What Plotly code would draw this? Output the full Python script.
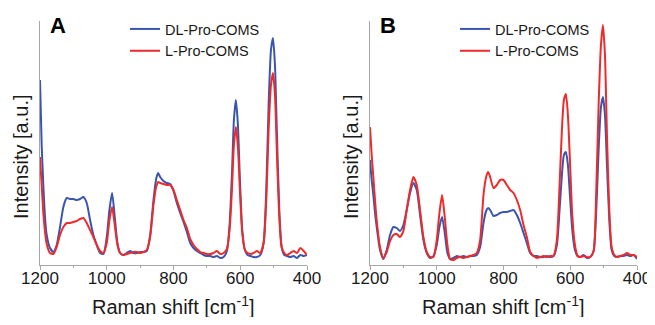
import plotly.graph_objects as go

# Raman shift positions (cm^-1)
wavenumber = [1200, 1195, 1190, 1185, 1180, 1170, 1160, 1150, 1140, 1130, 1120, 1110, 1100, 1090,
              1080, 1070, 1060, 1050, 1040, 1030, 1020, 1010, 1000, 992, 984, 976, 968, 960, 950,
              940, 930, 920, 910, 900, 890, 880, 870, 860, 852, 846, 840, 830, 820, 810, 800, 790,
              780, 770, 760, 750, 740, 730, 720, 710, 700, 690, 680, 670, 660, 650, 640, 632, 625,
              619, 613, 607, 601, 594, 586, 578, 570, 560, 550, 540, 530, 522, 515, 508, 502, 496,
              490, 483, 476, 468, 460, 450, 440, 430, 420, 410, 400]

# Panel A intensities (a.u.)
a_dl = [185, 120, 80, 48, 30, 17, 13, 20, 38, 58, 67, 66, 66, 65,
        66, 68, 62, 45, 30, 20, 12, 11, 28, 55, 72, 48, 22, 12, 10,
        12, 14, 12, 12, 13, 13, 14, 30, 65, 86, 92, 88, 84, 82, 81, 74, 62,
        52, 43, 33, 22, 17, 14, 12, 10, 9, 9, 8, 9, 7, 8, 14, 40, 90,
        145, 165, 140, 85, 35, 15, 10, 9, 8, 8, 10, 22, 75, 160, 215, 227, 200,
        130, 55, 18, 10, 9, 8, 9, 7, 10, 9, 10]
a_l = [108, 80, 52, 33, 21, 12, 11, 18, 30, 38, 42, 42, 43, 44,
       46, 47, 42, 35, 28, 20, 14, 12, 22, 45, 58, 40, 20, 12, 10,
       11, 12, 13, 13, 12, 13, 15, 28, 60, 78, 83, 82, 81, 80, 80, 75, 65,
       55, 45, 37, 26, 20, 16, 13, 12, 11, 11, 12, 14, 11, 12, 16, 35, 75,
       120, 138, 118, 75, 32, 15, 12, 11, 12, 14, 12, 22, 65, 135, 180, 192, 170,
       110, 48, 18, 12, 10, 12, 14, 12, 17, 14, 10]

# Panel B intensities (a.u.)
b_dl = [105, 85, 70, 52, 38, 15, 6, 15, 30, 38, 37, 34, 40, 55,
        72, 82, 75, 50, 25, 12, 7, 9, 20, 38, 48, 32, 12, 6, 7,
        9, 8, 9, 8, 9, 9, 10, 18, 42, 54, 57, 55, 49, 50, 52, 53, 53,
        54, 55, 50, 42, 32, 22, 12, 9, 9, 8, 8, 9, 8, 9, 20, 55, 90,
        110, 113, 100, 70, 35, 15, 9, 8, 10, 7, 8, 14, 55, 115, 158, 168, 150,
        100, 45, 15, 9, 8, 9, 9, 10, 9, 10, 6]
b_l = [138, 110, 88, 65, 45, 18, 7, 13, 24, 30, 31, 28, 34, 55,
       75, 88, 80, 55, 28, 13, 8, 8, 25, 52, 70, 48, 20, 6, 5,
       7, 8, 7, 8, 9, 10, 12, 25, 70, 88, 93, 88, 77, 80, 85, 85, 80,
       75, 72, 65, 55, 40, 28, 13, 9, 7, 8, 9, 8, 9, 9, 25, 80, 135,
       165, 171, 150, 105, 50, 20, 9, 8, 9, 8, 8, 14, 75, 160, 220, 240, 210,
       130, 55, 18, 10, 8, 9, 10, 12, 10, 10, 8]

series_names = ["DL-Pro-COMS", "L-Pro-COMS"]
tick_vals = [1200, 1000, 800, 600, 400]
panel_labels = ["A", "B"]

BLUE = "#3a55b0"
RED = "#ee2b2b"
AXIS = "#a6a6a6"
FONT = "Liberation Sans, Arial, sans-serif"

fig = go.Figure()
panels = [(a_dl, a_l, "x", "y", "legend"), (b_dl, b_l, "x2", "y2", "legend2")]
for dl, l, xa, ya, lg in panels:
    fig.add_trace(go.Scatter(x=wavenumber, y=dl, xaxis=xa, yaxis=ya, mode="lines",
                             name=series_names[0], legend=lg,
                             line=dict(color=BLUE, width=2, shape="spline", smoothing=0.6)))
    fig.add_trace(go.Scatter(x=wavenumber, y=l, xaxis=xa, yaxis=ya, mode="lines",
                             name=series_names[1], legend=lg,
                             line=dict(color=RED, width=2, shape="spline", smoothing=0.6)))

# the page body has an 8px margin; work in page pixels and convert.
OFF = 8
W, H = 655 - OFF, 325 - 2 * OFF

def px(x):
    return (x - OFF) / W

def py(y):
    return (H - (y - OFF)) / H

xcommon = dict(range=[1200, 400], tickvals=tick_vals, ticks="outside", ticklen=4, tickwidth=1,
               tickcolor=AXIS, showline=True, linecolor=AXIS, linewidth=1, showgrid=False,
               zeroline=False, automargin=False, ticklabelstandoff=-6, ticklabeloverflow="allow",
               tickfont=dict(family=FONT, size=17, color="#1a1a1a"),
               minor=dict(dtick=100, tick0=400, ticks="outside", ticklen=2, tickcolor=AXIS, showgrid=False))
ycommon = dict(range=[0, 244], showline=True, linecolor=AXIS, linewidth=1, showgrid=False,
               zeroline=False, showticklabels=False, ticks="", automargin=False)

fig.update_layout(
    width=W, height=H, margin=dict(l=0, r=0, t=0, b=0, autoexpand=False),
    paper_bgcolor="white", plot_bgcolor="white",
    xaxis=dict(domain=[px(40), px(307)], anchor="y", **xcommon),
    yaxis=dict(domain=[py(265), py(21)], anchor="x", **ycommon),
    xaxis2=dict(domain=[px(370), px(637)], anchor="y2", **xcommon),
    yaxis2=dict(domain=[py(265), py(21)], anchor="x2", **ycommon),
    legend=dict(x=px(125), y=py(13), xanchor="left", yanchor="top", bgcolor="rgba(0,0,0,0)",
                font=dict(family=FONT, size=14.5, color="#1a1a1a"), tracegroupgap=0),
    legend2=dict(x=px(455), y=py(13), xanchor="left", yanchor="top", bgcolor="rgba(0,0,0,0)",
                 font=dict(family=FONT, size=14.5, color="#1a1a1a"), tracegroupgap=0),
    showlegend=True,
)

ann = []
for cx, lab in zip([40, 370], panel_labels):
    ann.append(dict(x=px(cx + 18), y=py(26), xref="paper", yref="paper", text="<b>%s</b>" % lab,
                    showarrow=False, xanchor="center", yanchor="middle",
                    font=dict(family=FONT, size=22, color="black")))
    ann.append(dict(x=px(cx - 19), y=py(157), xref="paper", yref="paper", text="Intensity [a.u.]",
                    textangle=-90, showarrow=False, xanchor="center", yanchor="middle",
                    font=dict(family=FONT, size=20, color="#1a1a1a")))
    ann.append(dict(x=px(cx + 133.5), y=-3 / H, xref="paper", yref="paper",
                    text="Raman shift [cm<sup>-1</sup>]", showarrow=False,
                    xanchor="center", yanchor="bottom",
                    font=dict(family=FONT, size=20, color="#1a1a1a")))
fig.update_layout(annotations=ann)

fig.write_html("out.html")
